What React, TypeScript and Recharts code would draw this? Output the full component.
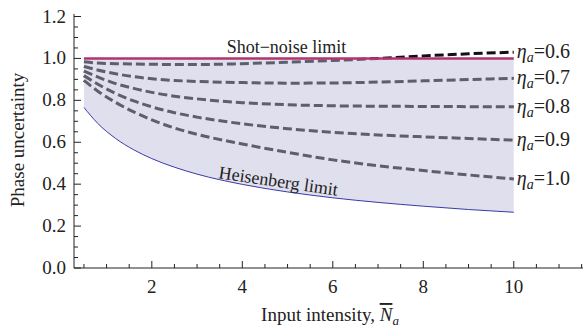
import { ComposedChart, Line, Area, XAxis, YAxis } from "recharts";

// Input intensity N_a (x) and phase uncertainty
const intensity = [0.5, 0.8, 1.2, 1.6, 2, 2.5, 3, 4, 5, 6, 7, 8, 9, 10];
const eta06 = [0.984, 0.978, 0.975, 0.973, 0.972, 0.971, 0.971, 0.975, 0.982, 0.99, 1.0, 1.012, 1.022, 1.03];
const eta07 = [0.962, 0.945, 0.927, 0.913, 0.903, 0.895, 0.89, 0.885, 0.882, 0.883, 0.887, 0.893, 0.899, 0.905];
const eta08 = [0.94, 0.912, 0.88, 0.857, 0.838, 0.82, 0.807, 0.789, 0.779, 0.774, 0.772, 0.771, 0.77, 0.77];
const eta09 = [0.918, 0.878, 0.833, 0.797, 0.769, 0.741, 0.72, 0.688, 0.665, 0.647, 0.635, 0.626, 0.618, 0.61];
const eta10 = [0.895, 0.845, 0.79, 0.745, 0.707, 0.668, 0.638, 0.592, 0.552, 0.516, 0.488, 0.465, 0.444, 0.425];
const heisenberg = [0.766, 0.691, 0.618, 0.564, 0.522, 0.481, 0.448, 0.399, 0.363, 0.335, 0.313, 0.295, 0.279, 0.266];
const shotNoise = [1, 1, 1, 1, 1, 1, 1, 1, 1, 1, 1, 1, 1, 1];

const xMajor = [2, 4, 6, 8, 10];
const yMajor = ["0.0", "0.2", "0.4", "0.6", "0.8", "1.0", "1.2"];
const xTicks = Array.from({ length: 23 }, (_, k) => 0.5 + k * 0.5);
const yTicks = Array.from({ length: 25 }, (_, k) => Math.round(k * 5) / 100);

const etaLabels = ["0.6", "0.7", "0.8", "0.9", "1.0"];
const etaSeries = [eta06, eta07, eta08, eta09, eta10];

const data = intensity.map((n, i) => ({
  n,
  e0: eta06[i],
  e1: eta07[i],
  e2: eta08[i],
  e3: eta09[i],
  e4: eta10[i],
  heis: heisenberg[i],
  shot: shotNoise[i],
}));

const FONT = "'Liberation Serif', 'Times New Roman', serif";
const INK = "#222";
const LABEL_IDX = 8; // x = 5

const isYMajor = (v: number) => Math.abs(v * 5 - Math.round(v * 5)) < 1e-6;

const BottomTick = ({ x, y, payload }: any) => {
  const major = xMajor.includes(payload.value);
  return (
    <g>
      <line x1={x} x2={x} y1={y} y2={y - (major ? 7 : 4)} stroke={INK} />
      {major && (
        <text x={x} y={y + 25} textAnchor="middle" fontFamily={FONT} fontSize={19} fill={INK}>
          {payload.value}
        </text>
      )}
    </g>
  );
};

const TopTick = ({ x, y, payload }: any) => {
  const major = xMajor.includes(payload.value);
  return <line x1={x} x2={x} y1={y} y2={y + (major ? 7 : 4)} stroke={INK} />;
};

const LeftTick = ({ x, y, payload }: any) => {
  const major = isYMajor(payload.value);
  return (
    <g>
      <line x1={x} x2={x + (major ? 7 : 4)} y1={y} y2={y} stroke={INK} />
      {major && (
        <text x={x - 8} y={y + 6} textAnchor="end" fontFamily={FONT} fontSize={19} fill={INK}>
          {yMajor[Math.round(payload.value * 5)]}
        </text>
      )}
    </g>
  );
};

const RightTick = ({ x, y, payload }: any) => {
  const major = isYMajor(payload.value);
  return <line x1={x} x2={x - (major ? 7 : 4)} y1={y} y2={y} stroke={INK} />;
};

const etaLabel = (txt: string) => (props: any) => {
  const { x, y, index } = props;
  if (index !== intensity.length - 1) return <g />;
  return (
    <text x={x + 3} y={y + 6} fontFamily={FONT} fontSize={20} fill={INK}>
      <tspan fontStyle="italic">η</tspan>
      <tspan fontStyle="italic" fontSize={14} dy={4}>a</tspan>
      <tspan dy={-4}>={txt}</tspan>
    </text>
  );
};

const shotLabel = (props: any) => {
  const { x, y, index } = props;
  if (index !== LABEL_IDX) return <g />;
  return (
    <text x={x - 1} y={y - 5} textAnchor="middle" fontFamily={FONT} fontSize={18} fill={INK}>
      Shot−noise limit
    </text>
  );
};

const heisLabel = (props: any) => {
  const { x, y, index } = props;
  if (index !== LABEL_IDX) return <g />;
  const cx = x - 10;
  const cy = y - 5;
  return (
    <text x={cx} y={cy} textAnchor="middle" transform={`rotate(8.4 ${cx} ${cy})`} fontFamily={FONT} fontSize={18} fill={INK}>
      Heisenberg limit
    </text>
  );
};

export default function App() {
  return (
    <div style={{ position: "absolute", left: 0, top: 0, width: 586, height: 328, background: "#fff" }}>
      <ComposedChart width={586} height={328} data={data} margin={{ top: 14, right: 3, bottom: 30, left: 0 }}>
        <XAxis
          xAxisId="b"
          dataKey="n"
          type="number"
          orientation="bottom"
          domain={[0.28, 11.53]}
          allowDataOverflow
          ticks={xTicks}
          interval={0}
          height={30}
          tickSize={0}
          tickMargin={0}
          tickLine={false}
          axisLine={{ stroke: INK }}
          tick={<BottomTick />}
        />
        <XAxis
          xAxisId="t"
          dataKey="n"
          type="number"
          orientation="top"
          domain={[0.28, 11.53]}
          allowDataOverflow
          ticks={xTicks}
          interval={0}
          height={0}
          tickSize={0}
          tickMargin={0}
          tickLine={false}
          axisLine={{ stroke: INK }}
          tick={<TopTick />}
        />
        <YAxis
          yAxisId="l"
          type="number"
          domain={[0, 1.212]}
          allowDataOverflow
          ticks={yTicks}
          interval={0}
          width={74}
          tickSize={0}
          tickMargin={0}
          tickLine={false}
          axisLine={{ stroke: INK }}
          tick={<LeftTick />}
        />
        <YAxis
          yAxisId="r"
          orientation="right"
          type="number"
          domain={[0, 1.212]}
          allowDataOverflow
          ticks={yTicks}
          interval={0}
          width={0}
          tickSize={0}
          tickMargin={0}
          tickLine={false}
          axisLine={{ stroke: INK }}
          tick={<RightTick />}
        />

        {etaSeries.map((_, k) => (
          <Line
            key={k}
            xAxisId="b"
            yAxisId="l"
            type="monotone"
            dataKey={`e${k}`}
            stroke="#111"
            strokeWidth={3}
            strokeDasharray="9 4"
            dot={false}
            activeDot={false}
            isAnimationActive={false}
            label={etaLabel(etaLabels[k])}
          />
        ))}

        {/* translucent band drawn over the dashed curves */}
        <Area
          xAxisId="b"
          yAxisId="l"
          type="monotone"
          dataKey={(d: any) => [d.heis, d.shot]}
          fill="#bcb9da"
          fillOpacity={0.46}
          stroke="none"
          isAnimationActive={false}
          zIndex={450}
        />

        <Line
          xAxisId="b"
          yAxisId="l"
          type="linear"
          dataKey="shot"
          stroke="#b3336f"
          strokeWidth={2.6}
          dot={false}
          activeDot={false}
          isAnimationActive={false}
          label={shotLabel}
          zIndex={500}
        />
        <Line
          xAxisId="b"
          yAxisId="l"
          type="monotone"
          dataKey="heis"
          stroke="#3a3aa8"
          strokeWidth={1}
          dot={false}
          activeDot={false}
          isAnimationActive={false}
          label={heisLabel}
          zIndex={500}
        />
      </ComposedChart>
      <svg width={586} height={328} style={{ position: "absolute", left: 0, top: 0, pointerEvents: "none" }}>
        <text transform="rotate(-90)" x={-140} y={24} textAnchor="middle" fontFamily={FONT} fontSize={19} fill={INK}>
          Phase uncertainty
        </text>
        <text x={330} y={321} textAnchor="middle" fontFamily={FONT} fontSize={19} fill={INK}>
          Input intensity,{" "}
          <tspan fontStyle="italic" style={{ textDecoration: "overline" }}>N</tspan>
          <tspan fontStyle="italic" fontSize={13} dy={4}>a</tspan>
        </text>
      </svg>
    </div>
  );
}
